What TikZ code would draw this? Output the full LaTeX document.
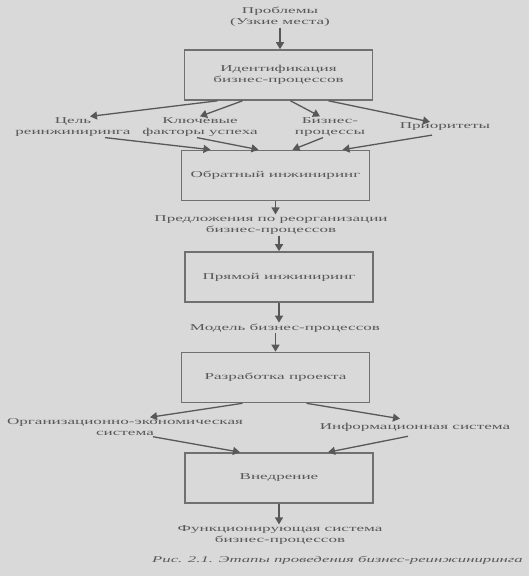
\documentclass[tikz,border=0pt]{standalone}
\usepackage{fontspec}
\setmainfont{Liberation Serif}[FakeStretch=1.9]
\usetikzlibrary{arrows.meta}
\definecolor{bgcol}{RGB}{217,217,217}
\definecolor{inkcol}{RGB}{88,88,88}
\definecolor{boxcol}{RGB}{112,112,112}
\tikzset{
	stage/.style={draw=boxcol,line width=1.6pt,minimum width=188pt,minimum height=50pt,align=center,font=\fontsize{9}{11}\selectfont},
	lbl/.style={align=center,inner sep=1pt,font=\fontsize{9}{11}\selectfont},
	arr/.style={-{Triangle[width=8pt,length=7pt]},line width=1.3pt,draw=inkcol}
}
\begin{document}
\begin{tikzpicture}[x=1pt,y=-1pt,text=inkcol]
	\fill[bgcol] (0,0) rectangle (529,576);
	\useasboundingbox (0,0) rectangle (529,576);
	% stages
	\node[lbl] (prob) at (280,17) {Проблемы\\(Узкие места)};
	\node[stage] (ident) at (278.5,75) {Идентификация\\бизнес-процессов};
	\node[lbl] (goal) at (73,127) {Цель\\реинжиниринга};
	\node[lbl] (keyf) at (200,127) {Ключевые\\факторы успеха};
	\node[lbl] (bproc) at (330,127) {Бизнес-\\процессы};
	\node[lbl] (prio) at (445,127) {Приоритеты};
	\node[stage] (obr) at (275.5,175.5) {Обратный инжиниринг};
	\node[lbl] (prop) at (271,225) {Предложения по реорганизации\\бизнес-процессов};
	\node[stage] (pryam) at (279,277) {Прямой инжиниринг};
	\node[lbl] (model) at (285,328) {Модель бизнес-процессов};
	\node[stage] (razr) at (275.5,377.5) {Разработка проекта};
	\node[lbl] (org) at (125,427) {Организационно-экономическая\\система};
	\node[lbl] (info) at (415,427) {Информационная система};
	\node[stage] (vned) at (279,478) {Внедрение};
	\node[lbl] (func) at (280,535) {Функционирующая система\\бизнес-процессов};
	\node[lbl,anchor=east,font=\fontsize{8.8}{11}\selectfont\itshape] (capt) at (524,560) {Рис. 2.1. Этапы проведения бизнес-реинжиниринга};
	% connectors
	\draw[arr] (prob) -- (prob |- ident.north);
	\draw[arr] ([xshift=-61pt]ident.south) -- ([xshift=17pt]goal.north);
	\draw[arr] ([xshift=-36pt]ident.south) -- (keyf.north);
	\draw[arr] ([xshift=12pt]ident.south) -- ([xshift=-10pt]bproc.north);
	\draw[arr] ([xshift=50pt]ident.south) -- ([xshift=-15pt]prio.north);
	\draw[arr] ([xshift=32pt]goal.south) -- ([xshift=-65pt]obr.north);
	\draw[arr] ([xshift=-3pt]keyf.south) -- ([xshift=-17pt]obr.north);
	\draw[arr] ([xshift=-7pt]bproc.south) -- ([xshift=17pt]obr.north);
	\draw[arr] ([xshift=-13pt,yshift=-3pt]prio.south) -- ([xshift=67pt]obr.north);
	\draw[arr] (obr.south) -- (obr.south |- prop.north);
	\draw[arr] (pryam.north |- prop.south) -- (pryam.north);
	\draw[arr] (pryam.south) -- (pryam.south |- model.north);
	\draw[arr] (razr.north |- model.south) -- (razr.north);
	\draw[arr] ([xshift=-33pt]razr.south) -- ([xshift=25pt]org.north);
	\draw[arr] ([xshift=31pt]razr.south) -- ([xshift=-15pt,yshift=3pt]info.north);
	\draw[arr] ([xshift=28pt]org.south) -- ([xshift=-39pt]vned.north);
	\draw[arr] ([xshift=-7pt,yshift=-4pt]info.south) -- ([xshift=49pt]vned.north);
	\draw[arr] (vned.south) -- (vned.south |- func.north);
\end{tikzpicture}
\end{document}
